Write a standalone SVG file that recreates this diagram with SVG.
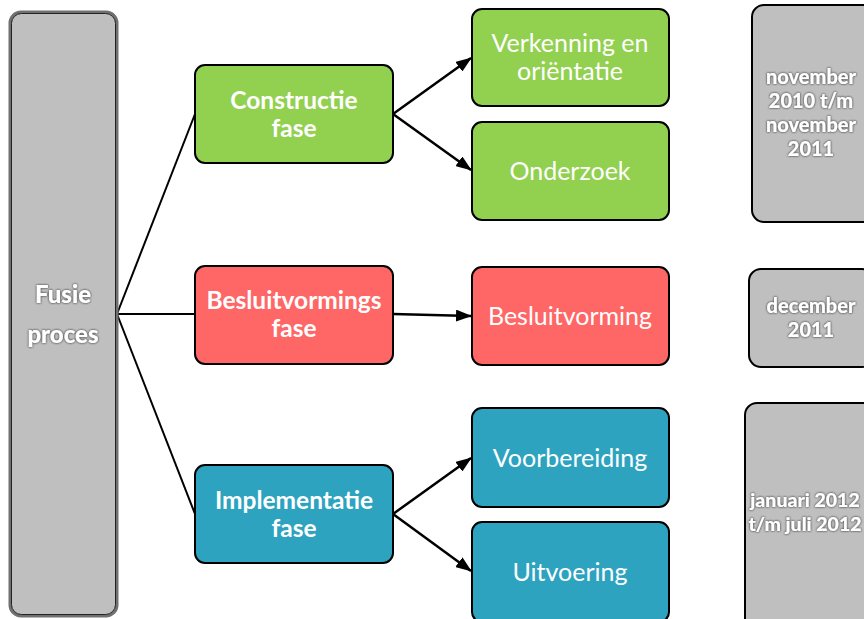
<svg xmlns="http://www.w3.org/2000/svg" width="864" height="619" viewBox="0 0 864 619">
<defs>
<style>
.box{stroke:#000;stroke-width:2}
.g{fill:#92D050}.r{fill:#FF6666}.b{fill:#2DA3BF}
.gray{fill:#BFBFBF;stroke:#000;stroke-width:2}
.t{font-family:Lato,"Open Sans","Liberation Sans",sans-serif;fill:#fff;text-anchor:middle}
.bold{font-weight:bold;font-size:24.5px}
.reg{font-size:25px}
.sh{font-family:Lato,"Liberation Sans",sans-serif;font-weight:900;fill:#fff;text-anchor:middle;filter:url(#shadow)}
.ln{stroke:#000;stroke-width:2;fill:none}
.ar{stroke:#000;stroke-width:2.5;fill:none;marker-end:url(#ah)}
</style>
<marker id="ah" viewBox="0 0 16 12" refX="15" refY="6" markerWidth="16" markerHeight="12" markerUnits="userSpaceOnUse" orient="auto">
<path d="M0,0 L16,6 L0,12 z" fill="#000"/>
</marker>
<filter id="shadow" x="-20%" y="-20%" width="140%" height="140%">
<feGaussianBlur in="SourceAlpha" stdDeviation="1.2" result="b"/>
<feOffset in="b" dx="0" dy="0" result="o"/>
<feFlood flood-color="#555" flood-opacity="0.9"/>
<feComposite in2="o" operator="in" result="s"/>
<feMerge><feMergeNode in="s"/><feMergeNode in="s"/><feMergeNode in="SourceGraphic"/></feMerge>
</filter>
</defs>
<rect width="864" height="619" fill="#fff"/>

<g id="connectors">
<line class="ln" x1="117" y1="314" x2="195" y2="114"/>
<line class="ln" x1="117" y1="314" x2="195" y2="314"/>
<line class="ln" x1="117" y1="314" x2="195" y2="514"/>
<line class="ar" x1="393" y1="114" x2="471" y2="58"/>
<line class="ar" x1="393" y1="114" x2="471" y2="170"/>
<line class="ar" x1="393" y1="314" x2="471" y2="316"/>
<line class="ar" x1="393" y1="514" x2="471" y2="458"/>
<line class="ar" x1="393" y1="514" x2="471" y2="571"/>
</g>

<g id="fusie">
<rect x="10" y="12" width="107" height="604" rx="11" fill="#BFBFBF" stroke="#707070" stroke-width="3"/>
<rect x="11.5" y="13.5" width="104" height="601" rx="10" fill="none" stroke="#222" stroke-width="1"/>
<text class="sh" x="63" y="303" font-size="24">Fusie</text>
<text class="sh" x="63" y="343" font-size="24">proces</text>
</g>

<g id="constructie">
<rect class="box g" x="195" y="65" width="198" height="98" rx="10"/>
<text class="t bold" x="294" y="109">Constructie</text>
<text class="t bold" x="294" y="137">fase</text>
</g>
<g id="besluitvormings">
<rect class="box r" x="195" y="266" width="198" height="98" rx="10"/>
<text class="t bold" x="294" y="309">Besluitvormings</text>
<text class="t bold" x="294" y="337">fase</text>
</g>
<g id="implementatie">
<rect class="box b" x="195" y="465" width="198" height="98" rx="10"/>
<text class="t bold" x="294" y="509">Implementatie</text>
<text class="t bold" x="294" y="537">fase</text>
</g>

<g id="verkenning">
<rect class="box g" x="472" y="9" width="197" height="97" rx="10"/>
<text class="t reg" x="570" y="52">Verkenning en</text>
<text class="t reg" x="570" y="80">oriëntatie</text>
</g>
<g id="onderzoek">
<rect class="box g" x="472" y="122" width="197" height="98" rx="10"/>
<text class="t reg" x="570" y="180">Onderzoek</text>
</g>
<g id="besluitvorming">
<rect class="box r" x="472" y="267" width="197" height="98" rx="10"/>
<text class="t reg" x="570" y="325">Besluitvorming</text>
</g>
<g id="voorbereiding">
<rect class="box b" x="472" y="408" width="197" height="99" rx="10"/>
<text class="t reg" x="570" y="467">Voorbereiding</text>
</g>
<g id="uitvoering">
<rect class="box b" x="472" y="522" width="197" height="100" rx="10"/>
<text class="t reg" x="570" y="581">Uitvoering</text>
</g>

<g id="date1">
<rect class="gray" x="752" y="5" width="125" height="217" rx="12"/>
<text class="sh" x="811" y="84" font-size="20">november</text>
<text class="sh" x="811" y="108" font-size="20">2010 t/m</text>
<text class="sh" x="811" y="132" font-size="20">november</text>
<text class="sh" x="811" y="156" font-size="20">2011</text>
</g>
<g id="date2">
<rect class="gray" x="749" y="269" width="125" height="98" rx="12"/>
<text class="sh" x="811" y="313" font-size="20">december</text>
<text class="sh" x="811" y="337" font-size="20">2011</text>
</g>
<g id="date3">
<rect class="gray" x="745" y="403" width="130" height="230" rx="12"/>
<text class="sh" x="805" y="507" font-size="19.5">januari 2012</text>
<text class="sh" x="805" y="531" font-size="19.5">t/m juli 2012</text>
</g>
</svg>
